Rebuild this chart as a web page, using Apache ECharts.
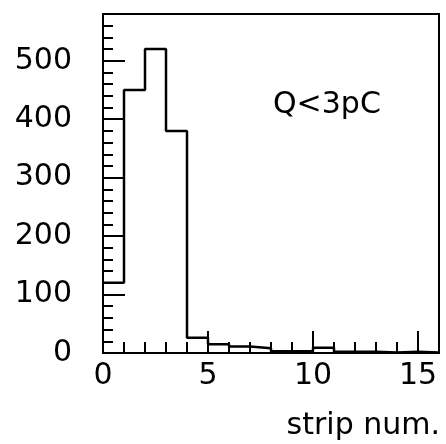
<!DOCTYPE html>
<html>
<head>
<meta charset="utf-8">
<script src="https://cdn.jsdelivr.net/npm/echarts@6/dist/echarts.min.js"></script>
<style>html,body{margin:0;padding:0;background:#fff}#c{width:446px;height:444px}</style>
</head>
<body>
<div id="c"></div>
<script>
// bin left edges (strip number) and counts per bin
var binEdges = [0, 1, 2, 3, 4, 5, 6, 7, 8, 9, 10, 11, 12, 13, 14, 15, 16];
var counts = [120, 450, 520, 380, 26, 15, 11, 8, 3, 3, 9, 2, 2, 1, 2, 1];
var xTickLabels = ['0', '5', '10', '15'];
var yTickLabels = ['0', '100', '200', '300', '400', '500'];
var annotation = 'Q<3pC';
var xTitle = 'strip num.';

var stepData = [];
for (var i = 0; i < counts.length; i++) stepData.push([binEdges[i], counts[i]]);
stepData.push([binEdges[counts.length], counts[counts.length - 1]]);

var FONT = 'DejaVu Sans';
var chart = echarts.init(document.getElementById('c'), null, {renderer: 'canvas'});
var axLine = {show: true, lineStyle: {color: '#000', width: 2}};
chart.setOption({
  animation: false,
  backgroundColor: '#fff',
  grid: {left: 103, right: 7, top: 14, bottom: 91, show: true, borderColor: '#000', borderWidth: 2, containLabel: false},
  xAxis: [
    {type: 'value', min: 0, max: 16, interval: 1, axisLine: axLine,
     axisTick: {show: true, inside: true, length: 11, lineStyle: {color: '#000', width: 2}},
     axisLabel: {show: false}, splitLine: {show: false}},
    {type: 'value', min: 0, max: 16, interval: 5, position: 'bottom', offset: 0, axisLine: axLine,
     axisTick: {show: true, inside: true, length: 22, lineStyle: {color: '#000', width: 2}},
     axisLabel: {show: true, margin: 8, color: '#000', fontFamily: FONT, fontSize: 30,
       formatter: function (v) { var s = String(v); return xTickLabels.indexOf(s) >= 0 ? s : ''; }},
     splitLine: {show: false}}
  ],
  yAxis: [
    {type: 'value', min: 0, max: 580, interval: 20, axisLine: axLine,
     axisTick: {show: true, inside: true, length: 10, lineStyle: {color: '#000', width: 2}},
     axisLabel: {show: false}, splitLine: {show: false}},
    {type: 'value', min: 0, max: 580, interval: 100, position: 'left', offset: 0, axisLine: axLine,
     axisTick: {show: true, inside: true, length: 22, lineStyle: {color: '#000', width: 2}},
     axisLabel: {show: true, margin: 31, color: '#000', fontFamily: FONT, fontSize: 30,
       formatter: function (v) { var s = String(v); return yTickLabels.indexOf(s) >= 0 ? s : ''; }},
     splitLine: {show: false}}
  ],
  series: [{
    type: 'line', step: 'end', data: stepData, xAxisIndex: 0, yAxisIndex: 0,
    symbol: 'none', lineStyle: {color: '#000', width: 2.5}, clip: true
  }],
  graphic: [
    {type: 'text', left: 273, top: 90, style: {text: annotation, font: '30px "DejaVu Sans"', fill: '#000'}},
    {type: 'text', right: 6, top: 411, style: {text: xTitle, font: '30px "DejaVu Sans"', fill: '#000'}}
  ]
});
</script>
</body>
</html>
